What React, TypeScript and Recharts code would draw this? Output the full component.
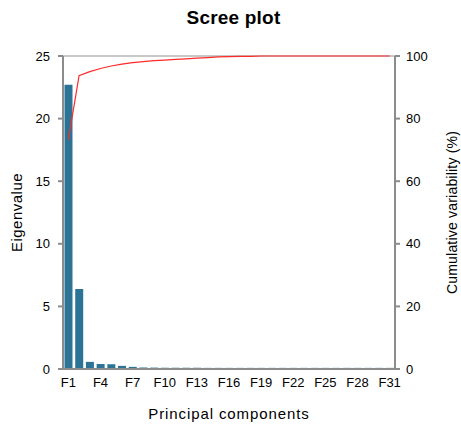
import {
  ComposedChart,
  Bar,
  Line,
  XAxis,
  YAxis,
  ReferenceLine,
} from "recharts";

const components = Array.from({ length: 31 }, (_, i) => `F${i + 1}`);

const eigenvalues = [
  22.7, 6.39, 0.57, 0.4, 0.38, 0.25, 0.17, 0.12, 0.11, 0.1, 0.1, 0.1, 0.1,
  0.09, 0.09, 0.09, 0.09, 0.09, 0.09, 0.09, 0.09, 0.09, 0.09, 0.09, 0.09, 0.09,
  0.09, 0.09, 0.09, 0.09, 0.09,
];

const cumulative = [
  73.2, 93.7, 95.0, 96.0, 96.8, 97.4, 97.9, 98.2, 98.5, 98.7, 98.9, 99.1, 99.3,
  99.5, 99.7, 99.8, 99.9, 99.9, 100, 100, 100, 100, 100, 100, 100, 100, 100,
  100, 100, 100, 100,
];

const eigenTicks = [0, 5, 10, 15, 20, 25];
const cumTicks = [0, 20, 40, 60, 80, 100];

const data = components.map((c, i) => ({
  name: c,
  eigen: eigenvalues[i],
  cum: cumulative[i],
}));

const font = "'Liberation Sans', Arial, sans-serif";
const axisGrey = "#8c8c8c";

export default function App() {
  return (
    <div
      style={{
        position: "absolute",
        left: 0,
        top: 0,
        width: 461,
        height: 424,
        background: "#fff",
        fontFamily: font,
      }}
    >
      <div
        style={{
          position: "absolute",
          top: 7,
          left: 0,
          width: 467,
          textAlign: "center",
          fontWeight: 700,
          fontSize: 19,
          color: "#000",
          letterSpacing: 0.2,
        }}
      >
        Scree plot
      </div>
      <ComposedChart
        width={461}
        height={424}
        data={data}
        margin={{ top: 56, right: 0, left: 0, bottom: 0 }}
        barCategoryGap="14%"
      >
        <XAxis
          dataKey="name"
          interval={2}
          height={55}
          tickLine={false}
          tickSize={0}
          tickMargin={9}
          axisLine={{ stroke: axisGrey, strokeWidth: 2 }}
          tick={{ fill: "#000", fontSize: 13, fontFamily: font }}
          label={{
            value: "Principal components",
            position: "insideBottom",
            offset: 5,
            style: { fill: "#000", fontSize: 15, fontFamily: font, letterSpacing: 0.9 },
          }}
        />
        <YAxis
          yAxisId="left"
          width={63}
          domain={[0, 25]}
          ticks={eigenTicks}
          tickSize={5}
          tickMargin={8}
          axisLine={{ stroke: axisGrey, strokeWidth: 2 }}
          tickLine={{ stroke: axisGrey, strokeWidth: 2 }}
          tick={{ fill: "#000", fontSize: 13, fontFamily: font }}
          label={{
            value: "Eigenvalue",
            angle: -90,
            position: "insideLeft",
            offset: 17,
            style: {
              textAnchor: "middle",
              fill: "#000",
              fontSize: 15,
              fontFamily: font,
              letterSpacing: 0.5,
            },
          }}
        />
        <YAxis
          yAxisId="right"
          orientation="right"
          width={66}
          domain={[0, 100]}
          ticks={cumTicks}
          tickSize={5}
          tickMargin={6}
          axisLine={{ stroke: axisGrey, strokeWidth: 2 }}
          tickLine={{ stroke: axisGrey, strokeWidth: 2 }}
          tick={{ fill: "#000", fontSize: 13, fontFamily: font }}
          label={{
            value: "Cumulative  variability  (%)",
            angle: -90,
            position: "insideRight",
            offset: 9,
            style: {
              textAnchor: "middle",
              fill: "#000",
              fontSize: 14,
              fontFamily: font,
              letterSpacing: 0.2,
            },
          }}
        />
        <ReferenceLine yAxisId="left" y={25} stroke="#c8c8c8" strokeWidth={2} />
        <Bar
          yAxisId="left"
          dataKey="eigen"
          fill="#2b7496"
          isAnimationActive={false}
        />
        <Line
          yAxisId="right"
          dataKey="cum"
          stroke="#ff2a2a"
          strokeWidth={1.2}
          dot={false}
          type="linear"
          isAnimationActive={false}
        />
      </ComposedChart>
    </div>
  );
}
